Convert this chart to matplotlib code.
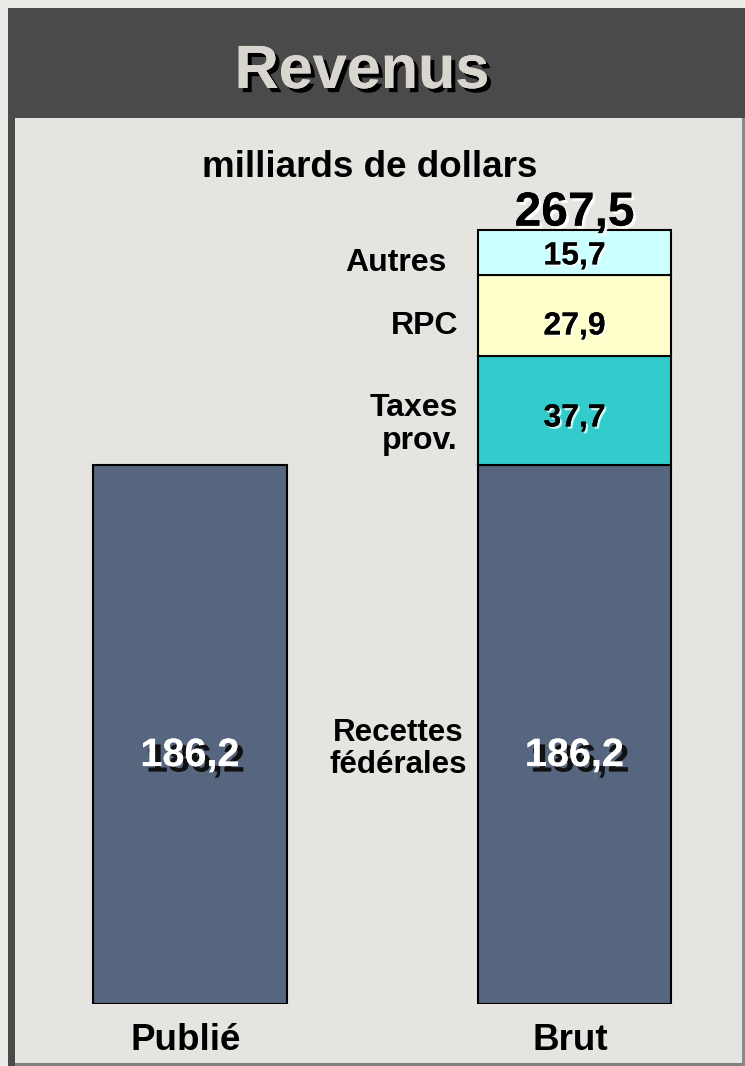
import matplotlib
matplotlib.use("Agg")
import matplotlib.pyplot as plt
from matplotlib.patches import Rectangle
import matplotlib.patheffects as pe

plt.rcParams['font.family'] = ['Liberation Sans', 'DejaVu Sans']

# ---- data ----
categories = ["Publié", "Brut"]
federal = [186.2, 186.2]
federal_labels = ["186,2", "186,2"]
stack_names = ["Taxes\nprov.", "RPC", "Autres"]
stack_values = [37.7, 27.9, 15.7]
stack_labels = ["37,7", "27,9", "15,7"]
stack_colors = ["#33cccc", "#ffffcc", "#ccffff"]
total_label = "267,5"
federal_name = "Recettes\nfédérales"
title = "Revenus"
subtitle = "milliards de dollars"

W, H = 745, 1066
fig = plt.figure(figsize=(W / 100, H / 100), dpi=100)
fig.patch.set_facecolor("#ecebe8")

def fx(px):
    return px / W

def fy(py):
    return 1 - py / H

# frame / panels (figure coordinates)
fig.patches.append(Rectangle((fx(8), fy(1066)), fx(760 - 8), (1066 - 8) / H,
                             transform=fig.transFigure, facecolor="#4a4a4a",
                             edgecolor="none", zorder=-3))
fig.patches.append(Rectangle((fx(15), fy(1063)), fx(742 - 15), (1063 - 118) / H,
                             transform=fig.transFigure, facecolor="#e6e4e0",
                             edgecolor="none", zorder=-2))
fig.patches.append(Rectangle((fx(15), fy(1066)), fx(745 - 15), 3 / H,
                             transform=fig.transFigure, facecolor="#808080",
                             edgecolor="none", zorder=-2))
fig.patches.append(Rectangle((fx(742), fy(1066)), fx(3), (1066 - 118) / H,
                             transform=fig.transFigure, facecolor="#8a8a8a",
                             edgecolor="none", zorder=-2))

# title with shadow
fig.text(fx(362), fy(88), title, ha="center", va="baseline", fontsize=44,
         fontweight="bold", color="#d9d6cf",
         path_effects=[pe.withSimplePatchShadow(offset=(3, -3), shadow_rgbFace="black", alpha=1.0),
                       pe.Normal()])

# subtitle
fig.text(fx(370), fy(177), subtitle, ha="center", va="baseline",
         fontsize=26.5, fontweight="bold", color="black")

# axes
px_per_unit = 539 / 186.2
bottom_px, top_px = 1004, 118
ax = fig.add_axes([0, (H - bottom_px) / H, 1, (bottom_px - top_px) / H])
ax.set_zorder(1)
ax.set_facecolor("none")
ax.set_xlim(-190 / 384.5, (745 - 190) / 384.5)
ax.set_ylim(0, (bottom_px - top_px) / px_per_unit)
ax.axis("off")

x = [0, 1]
bw = 0.503
bar_color = "#56667f"
ax.bar(x, federal, width=bw, color=bar_color, edgecolor="black", linewidth=1.5, zorder=2)

value_dy = [-8, -11, -4]      # px offsets of value labels
name_dy = [-14, -11, -11]     # px offsets of side labels
name_x = [458, 458, 447]      # right edges of side labels (px)
bottom = federal[1]
for i, (v, c, lab, name) in enumerate(zip(stack_values, stack_colors, stack_labels, stack_names)):
    ax.bar(x[1], v, bottom=bottom, width=bw, color=c, edgecolor="black", linewidth=1.5, zorder=2)
    ax.text(x[1], bottom + v / 2 + value_dy[i] / px_per_unit, lab, ha="center", va="center",
            fontsize=23, fontweight="bold", color="black", zorder=4,
            path_effects=[pe.withSimplePatchShadow(offset=(1.5, -1.5), shadow_rgbFace="white", alpha=0.8),
                          pe.Normal()])
    ax.text((name_x[i] - 190) / 384.5, bottom + v / 2 + name_dy[i] / px_per_unit, name,
            ha="right", va="center", fontsize=23,
            fontweight="bold", color="black", linespacing=1.1, zorder=4)
    bottom += v

total = federal[1] + sum(stack_values)
ax.text(x[1], total + 4 / px_per_unit, total_label, ha="center", va="baseline", fontsize=34.5,
        fontweight="bold", color="black", zorder=4,
        path_effects=[pe.withSimplePatchShadow(offset=(2, -2), shadow_rgbFace="white", alpha=0.9),
                      pe.Normal()])

# federal labels with dark shadow
for xi, v, lab in zip(x, federal, federal_labels):
    ax.text(xi, 86, lab, ha="center", va="center", fontsize=28.5,
            fontweight="bold", color="white", zorder=4,
            path_effects=[pe.withSimplePatchShadow(offset=(4, -4), shadow_rgbFace="#111111", alpha=1.0),
                          pe.Normal()])

ax.text((398 - 190) / 384.5, 88, federal_name, ha="center", va="center", fontsize=22.5,
        fontweight="bold", color="black", linespacing=1.1, zorder=4)

for xi, c in zip(x, categories):
    ax.text(xi - 4 / 384.5, -(1050 - bottom_px) / px_per_unit, c, ha="center", va="baseline",
            fontsize=26.5, fontweight="bold", color="black", clip_on=False)

fig.savefig("out.png", dpi=100, facecolor=fig.get_facecolor())
